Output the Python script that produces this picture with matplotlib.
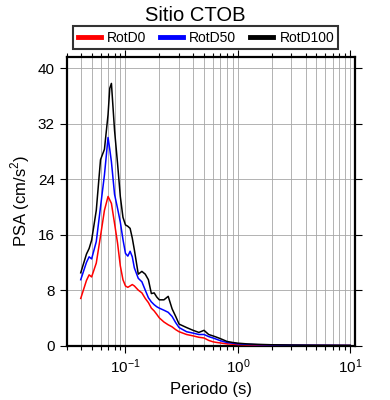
import matplotlib
matplotlib.use('Agg')
import matplotlib.pyplot as plt
import numpy as np

plt.rcParams['font.family'] = ['Liberation Sans', 'DejaVu Sans']
plt.rcParams['mathtext.fontset'] = 'custom'
plt.rcParams['mathtext.rm'] = 'Liberation Sans'

# periodos (s)
periodo = [0.04, 0.045, 0.0475, 0.05, 0.055, 0.06, 0.065, 0.07, 0.0725, 0.075,
           0.08, 0.085, 0.09, 0.095, 0.1, 0.105, 0.11, 0.115, 0.12, 0.13,
           0.14, 0.15, 0.16, 0.17, 0.18, 0.19, 0.2, 0.22, 0.24, 0.26,
           0.28, 0.3, 0.35, 0.4, 0.45, 0.5, 0.55, 0.6, 0.65, 0.7,
           0.8, 0.9, 1.0, 1.2, 1.5, 2.0, 3.0, 4.0, 5.0, 7.5, 10.0]

rotd0 = [6.8, 9.4, 10.2, 9.9, 11.9, 15.8, 19.5, 21.5, 21.0, 20.5,
         17.6, 14.8, 11.5, 9.5, 8.6, 8.4, 8.6, 8.8, 8.6, 8.0,
         7.6, 6.8, 6.2, 5.4, 5.0, 4.5, 4.0, 3.4, 3.0, 2.7,
         2.3, 2.0, 1.6, 1.4, 1.2, 1.1, 0.75, 0.55, 0.45, 0.38,
         0.25, 0.2, 0.15, 0.1, 0.08, 0.06, 0.04, 0.03, 0.03, 0.02, 0.02]

rotd50 = [9.5, 12.0, 12.8, 12.5, 15.0, 20.0, 24.6, 30.0, 28.3, 26.5,
          21.8, 19.8, 17.8, 15.3, 13.3, 12.9, 13.6, 12.8, 11.2, 9.7,
          9.2, 8.0, 6.9, 6.3, 5.9, 5.6, 5.4, 5.1, 4.8, 4.2,
          3.3, 2.6, 2.0, 1.8, 1.6, 1.6, 1.3, 1.1, 0.9, 0.7,
          0.45, 0.35, 0.25, 0.18, 0.13, 0.09, 0.06, 0.05, 0.04, 0.03, 0.02]

rotd100 = [10.5, 13.2, 14.0, 15.2, 19.5, 26.8, 28.3, 33.3, 37.1, 37.8,
           31.0, 26.3, 21.5, 18.5, 17.4, 17.2, 16.9, 15.5, 13.8, 10.3,
           10.7, 10.3, 9.5, 7.5, 7.6, 7.0, 6.6, 6.6, 7.1, 5.3,
           4.2, 3.1, 2.6, 2.2, 1.9, 2.2, 1.6, 1.4, 1.2, 1.0,
           0.6, 0.45, 0.35, 0.25, 0.18, 0.12, 0.08, 0.06, 0.05, 0.04, 0.03]

fig = plt.figure(figsize=(3.9, 4.0), dpi=100)
ax = fig.add_axes([0.171, 0.136, 0.739, 0.721])

ax.plot(periodo, rotd0, color='red', lw=1.1, label='RotD0', zorder=3)
ax.plot(periodo, rotd50, color='blue', lw=1.1, label='RotD50', zorder=3)
ax.plot(periodo, rotd100, color='black', lw=1.1, label='RotD100', zorder=3)

ax.set_xscale('log')
ax.set_xlim(0.03, 11)
ax.set_ylim(0, 1.1 * max(rotd100))
ax.set_yticks([0, 8, 16, 24, 32, 40])

ax.grid(True, which='both', axis='x', color='0.65', lw=0.6)
ax.grid(True, which='major', axis='y', color='0.65', lw=0.6)

ax.tick_params(which='both', direction='out', top=True, right=True,
               labeltop=False, labelright=False, width=0.8, labelsize=11)
ax.tick_params(which='major', length=5)
ax.tick_params(which='minor', length=3)
for s in ax.spines.values():
    s.set_linewidth(1.6)

ax.set_xlabel('Periodo (s)', fontsize=12, labelpad=4)
ax.set_ylabel('PSA (cm/s$^2$)', fontsize=12, labelpad=4)
fig.suptitle('Sitio CTOB', fontsize=14.5, y=0.985)

leg = fig.legend(loc='center', bbox_to_anchor=(0.528, 0.906),
                 ncol=3, fontsize=10, frameon=True, fancybox=False,
                 edgecolor='black', borderaxespad=0, handlelength=1.65,
                 handletextpad=0.45, borderpad=0.3, columnspacing=1.0)
leg.get_frame().set_linewidth(1.5)
for h in leg.get_lines():
    h.set_linewidth(3.5)

fig.savefig('out.png', dpi=100)
